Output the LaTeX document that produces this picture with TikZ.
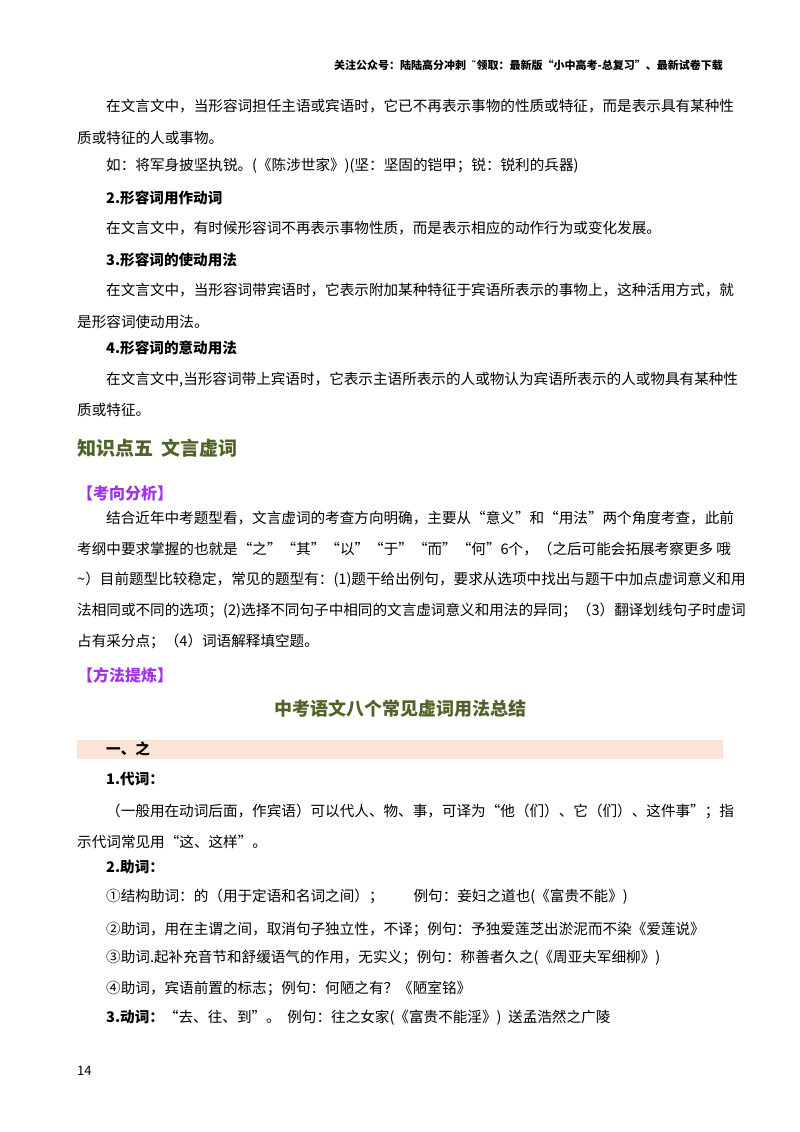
\documentclass[tikz,border=0pt]{standalone}
\usepackage{fontspec}
\setmainfont{Noto Sans CJK SC}
\newfontfamily\djv{DejaVu Sans}
\definecolor{hgreen}{HTML}{4F6228}
\definecolor{hpurple}{HTML}{A033E8}
\definecolor{band}{HTML}{FBE4D5}
\newcommand{\Ln}[4]{\node[txt] (#1) at (#2pt,-#3pt) {#4};}
\tikzset{txt/.style={anchor=west,inner sep=0pt,font=\fontsize{14.6}{16}\selectfont}}
\begin{document}
\begin{tikzpicture}[x=1pt,y=1pt]
\useasboundingbox (0,0) rectangle (800,-1132);
\node[anchor=east,inner sep=0pt,font=\fontsize{11}{12}\selectfont\bfseries] (hdr) at (723,-65) {关注公众号：陆陆高分冲刺\ \ {\djv ˜}领取：最新版“小中高考-总复习”、最新试卷下载};
\Ln{a1}{106}{106}{在文言文中，当形容词担任主语或宾语时，它已不再表示事物的性质或特征，而是表示具有某种性}
\Ln{a2}{77}{138}{质或特征的人或事物。}
\Ln{a3}{106}{166}{如：将军身披坚执锐。(《陈涉世家》)(坚：坚固的铠甲；锐：锐利的兵器)}
\Ln{a4}{106}{198}{\bfseries 2.形容词用作动词}
\Ln{a5}{106}{228}{在文言文中，有时候形容词不再表示事物性质，而是表示相应的动作行为或变化发展。}
\Ln{a6}{106}{260}{\bfseries 3.形容词的使动用法}
\Ln{a7}{106}{290}{在文言文中，当形容词带宾语时，它表示附加某种特征于宾语所表示的事物上，这种活用方式，就}
\Ln{a8}{77}{322}{是形容词使动用法。}
\Ln{a9}{106}{348}{\bfseries 4.形容词的意动用法}
\Ln{a10}{106}{380}{在文言文中,当形容词带上宾语时，它表示主语所表示的人或物认为宾语所表示的人或物具有某种性}
\Ln{a11}{77}{410}{质或特征。}
\node[txt,font=\fontsize{19}{20}\selectfont\bfseries,text=hgreen] (h5) at (77,-448) {知识点五\ \ 文言虚词};
\node[txt,font=\fontsize{16}{18}\selectfont\bfseries,text=hpurple] (k1) at (77,-493) {【考向分析】};
\Ln{b1}{106}{518}{结合近年中考题型看，文言虚词的考查方向明确，主要从“意义”和“用法”两个角度考查，此前}
\Ln{b2}{77}{549}{考纲中要求掌握的也就是“之”“其”“以”“于”“而”“何”6个，（之后可能会拓展考察更多 哦}
\Ln{b3}{77}{580}{\textasciitilde）目前题型比较稳定，常见的题型有：(1)题干给出例句，要求从选项中找出与题干中加点虚词意义和用}
\Ln{b4}{77}{611}{法相同或不同的选项；(2)选择不同句子中相同的文言虚词意义和用法的异同；（3）翻译划线句子时虚词}
\Ln{b5}{77}{641}{占有采分点；（4）词语解释填空题。}
\node[txt,font=\fontsize{16}{18}\selectfont\bfseries,text=hpurple] (k2) at (77,-675) {【方法提炼】};
\node[inner sep=0pt,font=\fontsize{18}{20}\selectfont\bfseries,text=hgreen] (title) at (400,-709) {中考语文八个常见虚词用法总结};
\fill[band] (77,-740) rectangle (723,-759);
\Ln{c0}{106}{749}{\bfseries 一、之}
\Ln{c1}{106}{779}{\bfseries 1.代词：}
\Ln{c2}{106}{811}{（一般用在动词后面，作宾语）可以代人、物、事，可译为“他（们）、它（们）、这件事”；指}
\Ln{c3}{77}{842}{示代词常见用“这、这样”。}
\Ln{c4}{106}{867}{\bfseries 2.助词：}
\Ln{c5}{106}{897}{①结构助词：的（用于定语和名词之间）；\hspace{30pt}例句：妾妇之道也(《富贵不能》)}
\Ln{c6}{106}{929}{②助词，用在主谓之间，取消句子独立性，不译；例句：予独爱莲芝出淤泥而不染《爱莲说》}
\Ln{c7}{106}{958}{③助词.起补充音节和舒缓语气的作用，无实义；例句：称善者久之(《周亚夫军细柳》)}
\Ln{c8}{106}{988}{④助词，宾语前置的标志；例句：何陋之有？《陋室铭》}
\Ln{c9}{106}{1018}{{\bfseries 3.动词：}“去、往、到”。\ \ 例句：往之女家(《富贵不能淫》)\ \ 送孟浩然之广陵}
\node[txt,font=\fontsize{13}{14}\selectfont] (pg) at (77,-1071) {14};
\end{tikzpicture}
\end{document}
